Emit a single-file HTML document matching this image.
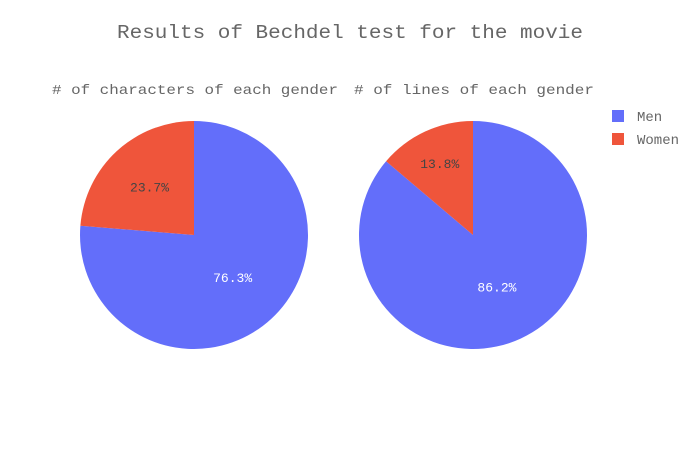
<!DOCTYPE html>
<html><head><meta charset="utf-8"><style>
body{margin:0;background:#fff}
svg{display:block;font-family:"Liberation Mono","Courier New",monospace}
</style></head><body>
<svg id="chart" width="700" height="450">
<text x="350" y="38" text-anchor="middle" font-size="19" fill="#666" textLength="466" lengthAdjust="spacingAndGlyphs">Results of Bechdel test for the movie</text>
<text x="195" y="94" text-anchor="middle" font-size="14" fill="#666" textLength="286" lengthAdjust="spacingAndGlyphs"># of characters of each gender</text>
<text x="474" y="94" text-anchor="middle" font-size="14" fill="#666" textLength="240" lengthAdjust="spacingAndGlyphs"># of lines of each gender</text>
<g id="pies"></g>
<g>
<rect x="612" y="110" width="12" height="12" fill="#636efa"/>
<text x="637" y="121" font-size="14" fill="#666">Men</text>
<rect x="612" y="133" width="12" height="12" fill="#EF553B"/>
<text x="637" y="144" font-size="14" fill="#666">Women</text>
</g>
</svg>
<script>
const labels = ["Men", "Women"];
const characterValues = [76.3, 23.7];
const lineValues = [86.2, 13.8];
const colors = ["#636efa", "#EF553B"];
const textColors = ["#fff", "#444"];
const NS = "http://www.w3.org/2000/svg";
const g = document.getElementById("pies");
function drawPie(values, cx, cy, R, name) {
  const total = values.reduce((a, b) => a + b, 0);
  let a0 = 0;
  values.forEach((v, i) => {
    const frac = v / total;
    const a1 = a0 + frac * 2 * Math.PI;
    const p = (a) => [cx + R * Math.sin(a), cy - R * Math.cos(a)];
    const [x0, y0] = p(a0), [x1, y1] = p(a1);
    const path = document.createElementNS(NS, "path");
    path.setAttribute("d", `M${cx},${cy} L${x0},${y0} A${R},${R} 0 ${frac > 0.5 ? 1 : 0} 1 ${x1},${y1} Z`);
    path.setAttribute("fill", colors[i]);
    path.setAttribute("stroke", "#fff");
    path.setAttribute("stroke-width", "0");
    
    
    g.appendChild(path);
    const mid = (a0 + a1) / 2;
    const r = R * (0.5 + Math.max(0, 0.3 - frac) * 1.2);
    const t = document.createElementNS(NS, "text");
    t.setAttribute("x", cx + r * Math.sin(mid));
    t.setAttribute("y", cy - r * Math.cos(mid) + 5);
    t.setAttribute("text-anchor", "middle");
    t.setAttribute("font-size", "13");
    t.setAttribute("fill", textColors[i]);
    t.textContent = (frac * 100).toFixed(1) + "%";
    
    
    g.appendChild(t);
    a0 = a1;
  });
}
drawPie(characterValues, 194, 235, 114, "characters");
drawPie(lineValues, 473, 235, 114, "lines");
</script>
</body></html>
